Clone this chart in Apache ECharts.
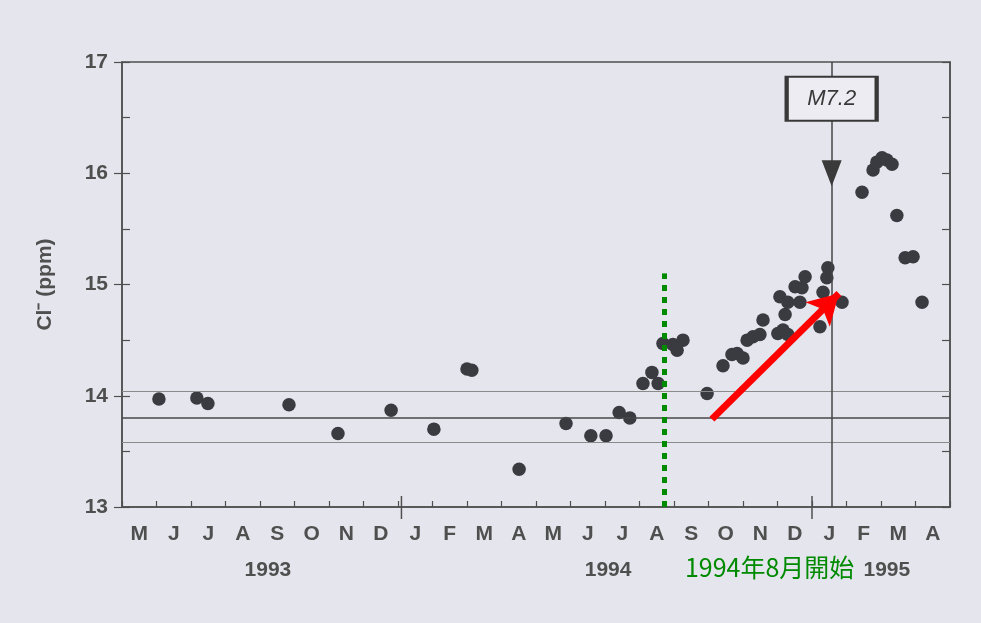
<!DOCTYPE html>
<html>
<head>
<meta charset="utf-8">
<script src="https://cdn.jsdelivr.net/npm/echarts@6/dist/echarts.min.js"></script>
<style>
  html, body { margin: 0; padding: 0; background: #e5e5ed; }
  #chart { width: 981px; height: 623px; }
</style>
</head>
<body>
<div id="chart"></div>
<script>
// Month initials, May 1993 through April 1995
const monthLabels = ['M','J','J','A','S','O','N','D','J','F','M','A',
                     'M','J','J','A','S','O','N','D','J','F','M','A'];
// Year captions and where they sit (months after 1 May 1993)
const yearLabels = ['1993', '1994', '1995'];
const yearLabelPos = [4.23, 14.09, 22.17];

// Cl- measurements: [months after 1 May 1993, ppm]
const before1994Aug = [
  [1.07, 13.97], [2.17, 13.98], [2.49, 13.93], [4.84, 13.92], [6.26, 13.66],
  [7.80, 13.87], [9.04, 13.70], [10.00, 14.24], [10.14, 14.23], [11.51, 13.34],
  [12.87, 13.75], [13.59, 13.64], [14.03, 13.64], [14.41, 13.85], [14.72, 13.80],
  [15.10, 14.11], [15.36, 14.21], [15.54, 14.11]
];
const rising = [
  [15.68, 14.47], [15.97, 14.46], [16.09, 14.41], [16.26, 14.50], [16.96, 14.02],
  [17.42, 14.27], [17.68, 14.37], [17.83, 14.38], [18.00, 14.34], [18.12, 14.50],
  [18.29, 14.53], [18.49, 14.55], [18.58, 14.68], [19.01, 14.56], [19.16, 14.59],
  [19.30, 14.55], [19.22, 14.73], [19.07, 14.89], [19.30, 14.84], [19.51, 14.98],
  [19.65, 14.84], [19.80, 15.07], [19.71, 14.97], [20.23, 14.62], [20.32, 14.93],
  [20.43, 15.06], [20.46, 15.15]
];
const afterQuake = [
  [20.87, 14.84], [21.45, 15.83], [21.77, 16.03], [21.88, 16.10], [22.03, 16.14],
  [22.17, 16.12], [22.32, 16.08], [22.46, 15.62], [22.70, 15.24], [22.93, 15.25],
  [23.19, 14.84]
];

// Reference levels: mean and the band around it
const meanLevel = 13.80;
const bandUpper = 14.04;
const bandLower = 13.58;

// Event markers
const quakeMonth = 20.57;      // 17 Jan 1995
const quakeLabel = 'M7.2';
const onsetMonth = 15.71;      // late Aug 1994
const onsetTop = 15.10;
const onsetText = '1994年8月開始';
const trendStart = [17.10, 13.79];
const trendEnd = [20.78, 14.92];
const yearTicks = [8.1, 20];   // 1 Jan 1994, 1 Jan 1995

const ink = '#4f4f4f';
const dotColor = '#3a3a41';
const font = 'Liberation Sans';

const chart = echarts.init(document.getElementById('chart'));

chart.setOption({
  backgroundColor: '#e5e5ed',
  animation: false,
  grid: {
    left: 122, right: 31, top: 62, bottom: 116,
    show: true, borderColor: ink, borderWidth: 1.5, backgroundColor: 'transparent'
  },
  xAxis: [
    {
      type: 'category', data: monthLabels, position: 'bottom', boundaryGap: true,
      axisLine: { show: true, lineStyle: { color: ink, width: 1.5 } },
      axisTick: { show: true, inside: true, length: 6, lineStyle: { color: ink, width: 1.2 } },
      axisLabel: { color: ink, fontSize: 21, fontWeight: 'bold', fontFamily: font, margin: 17 },
      splitLine: { show: false }
    },
    {
      type: 'value', min: 0, max: 24, show: false, splitLine: { show: false }
    }
  ],
  yAxis: [
    {
      type: 'value', min: 13, max: 17, interval: 1, position: 'left',
      name: 'Cl⁻ (ppm)', nameLocation: 'middle', nameGap: 66,
      nameTextStyle: { color: ink, fontSize: 21, fontWeight: 'bold', fontFamily: font },
      axisLine: { show: true, lineStyle: { color: ink, width: 1.5 } },
      axisTick: { show: true, inside: false, length: 8, lineStyle: { color: ink, width: 1.2 } },
      axisLabel: { color: ink, fontSize: 21, fontWeight: 'bold', fontFamily: font, margin: 14 },
      splitLine: { show: false }
    },
    {
      type: 'value', min: 13, max: 17, interval: 0.5, position: 'left',
      axisLine: { show: false },
      axisTick: { show: true, inside: true, length: 8, lineStyle: { color: ink, width: 1.2 } },
      axisLabel: { show: false }, splitLine: { show: false }
    },
    {
      type: 'value', min: 13, max: 17, interval: 0.5, position: 'right',
      axisLine: { show: true, lineStyle: { color: ink, width: 1.5 } },
      axisTick: { show: true, inside: true, length: 8, lineStyle: { color: ink, width: 1.2 } },
      axisLabel: { show: false }, splitLine: { show: false }
    }
  ],
  series: [
    {
      // reference lines and the quake marker line
      type: 'scatter', xAxisIndex: 1, yAxisIndex: 0, data: [], z: 1,
      markLine: {
        silent: true, symbol: 'none', label: { show: false }, animation: false,
        data: [
          { yAxis: meanLevel, lineStyle: { color: '#474747', width: 1.6, type: 'solid' } },
          { yAxis: bandUpper, lineStyle: { color: '#8a8a8a', width: 1, type: 'solid' } },
          { yAxis: bandLower, lineStyle: { color: '#8a8a8a', width: 1, type: 'solid' } },
          [{ coord: [quakeMonth, 17], lineStyle: { color: '#444', width: 1.5, type: 'solid' } },
           { coord: [quakeMonth, 13] }]
        ]
      }
    },
    {
      // year boundary ticks crossing the time axis
      type: 'custom', xAxisIndex: 1, yAxisIndex: 0, z: 2, clip: false, silent: true,
      data: yearTicks.map(m => [m, 13]),
      renderItem: function (params, api) {
        const p = api.coord([api.value(0), api.value(1)]);
        return {
          type: 'line',
          shape: { x1: p[0], y1: p[1] - 11, x2: p[0], y2: p[1] + 12 },
          style: { stroke: ink, lineWidth: 1.5 }
        };
      }
    },
    {
      name: 'Cl-', type: 'scatter', xAxisIndex: 1, yAxisIndex: 0, z: 3,
      symbolSize: 13.5, itemStyle: { color: dotColor, opacity: 1 },
      data: before1994Aug.concat(rising, afterQuake)
    },
    {
      // onset line and rising-trend arrow
      type: 'scatter', xAxisIndex: 1, yAxisIndex: 0, data: [], z: 4,
      markLine: {
        silent: true, symbol: 'none', label: { show: false }, animation: false,
        data: [
          [{ coord: [onsetMonth, 13], lineStyle: { color: '#008a00', width: 5, type: [6, 6] } },
           { coord: [onsetMonth, onsetTop] }],
          [{ coord: trendStart, lineStyle: { color: '#ff0000', width: 7, type: 'solid', cap: 'butt' } },
           { coord: trendEnd, symbol: 'arrow', symbolSize: [26, 30] }]
        ]
      }
    },
    {
      // earthquake label box and pointer
      type: 'scatter', xAxisIndex: 1, yAxisIndex: 0, data: [], z: 5,
      markPoint: {
        silent: true, animation: false,
        data: [
          {
            coord: [quakeMonth, 16.67], symbol: 'rect', symbolSize: [90, 44],
            itemStyle: { color: '#ececf2', borderColor: '#383838', borderWidth: 3 },
            label: {
              show: true, position: 'inside', formatter: quakeLabel,
              color: '#383838', fontSize: 22, fontStyle: 'italic', fontFamily: font
            }
          },
          {
            coord: [quakeMonth, 16.00], symbol: 'triangle', symbolRotate: 180,
            symbolSize: [20, 26], itemStyle: { color: '#3a3a3a' },
            label: { show: false }
          }
        ]
      }
    }
  ]
});

// Year captions and the onset note under the time axis
const texts = yearLabels.map((t, i) => ({
  type: 'text',
  x: chart.convertToPixel({ xAxisIndex: 1 }, yearLabelPos[i]),
  y: 570,
  style: {
    text: t, fill: ink, fontSize: 21, fontWeight: 'bold', fontFamily: font,
    align: 'center', verticalAlign: 'middle'
  },
  z: 10
}));
texts.push({
  type: 'text',
  x: chart.convertToPixel({ xAxisIndex: 1 }, onsetMonth) + 21,
  y: 567,
  style: {
    text: onsetText, fill: '#008a00', fontSize: 25,
    fontFamily: '"Noto Sans CJK TC", "Noto Sans CJK SC", sans-serif',
    align: 'left', verticalAlign: 'middle'
  },
  z: 11
});
chart.setOption({ graphic: { elements: texts } });
</script>
</body>
</html>
